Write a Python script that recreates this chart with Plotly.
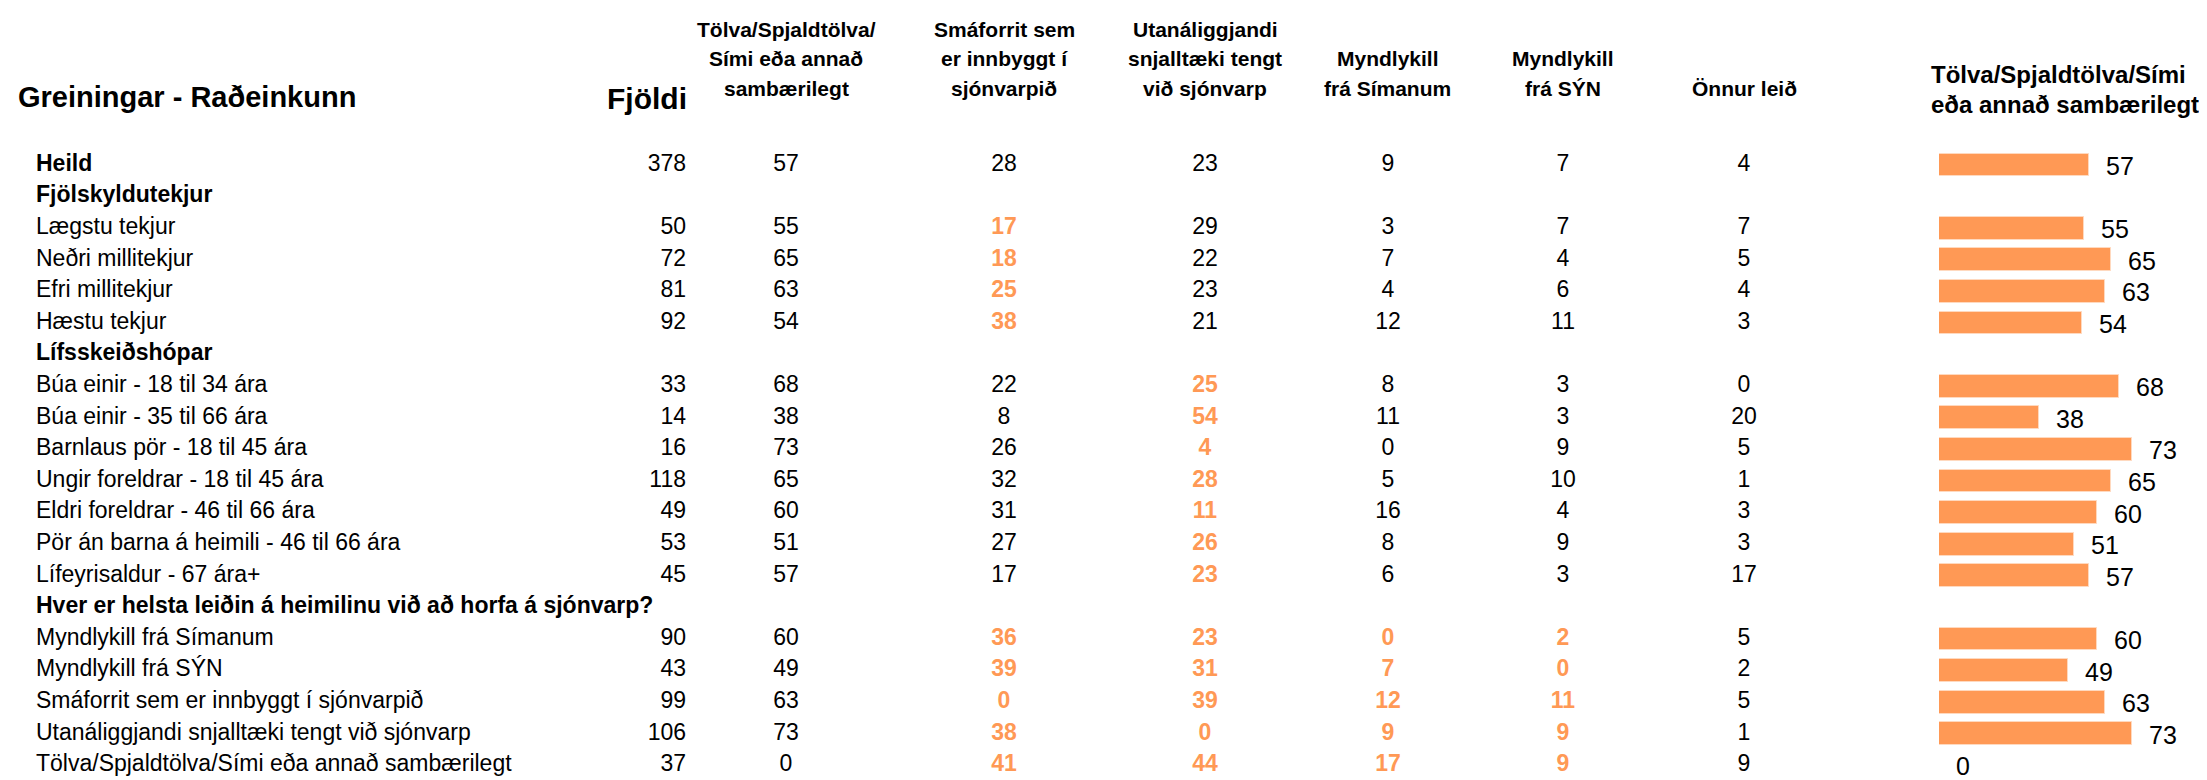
import plotly.graph_objects as go

# ---------------- data ----------------
row_labels = [
    "Heild", "Fjölskyldutekjur", "Lægstu tekjur", "Neðri millitekjur", "Efri millitekjur",
    "Hæstu tekjur", "Lífsskeiðshópar", "Búa einir - 18 til 34 ára", "Búa einir - 35 til 66 ára",
    "Barnlaus pör - 18 til 45 ára", "Ungir foreldrar - 18 til 45 ára",
    "Eldri foreldrar - 46 til 66 ára", "Pör án barna á heimili - 46 til 66 ára",
    "Lífeyrisaldur - 67 ára+", "Hver er helsta leiðin á heimilinu við að horfa á sjónvarp?",
    "Myndlykill frá Símanum", "Myndlykill frá SÝN", "Smáforrit sem er innbyggt í sjónvarpið",
    "Utanáliggjandi snjalltæki tengt við sjónvarp", "Tölva/Spjaldtölva/Sími eða annað sambærilegt",
]
bold_rows = [0, 1, 6, 14]

fjoldi    = [378, None, 50, 72, 81, 92, None, 33, 14, 16, 118, 49, 53, 45, None, 90, 43, 99, 106, 37]
tolva     = [57, None, 55, 65, 63, 54, None, 68, 38, 73, 65, 60, 51, 57, None, 60, 49, 63, 73, 0]
smaforrit = [28, None, 17, 18, 25, 38, None, 22, 8, 26, 32, 31, 27, 17, None, 36, 39, 0, 38, 41]
utan      = [23, None, 29, 22, 23, 21, None, 25, 54, 4, 28, 11, 26, 23, None, 23, 31, 39, 0, 44]
siminn    = [9, None, 3, 7, 4, 12, None, 8, 11, 0, 5, 16, 8, 6, None, 0, 7, 12, 9, 17]
syn       = [7, None, 7, 4, 6, 11, None, 3, 3, 9, 10, 4, 9, 3, None, 2, 0, 11, 9, 9]
onnur     = [4, None, 7, 5, 4, 3, None, 0, 20, 5, 1, 3, 3, 17, None, 5, 2, 5, 1, 9]

value_columns = [tolva, smaforrit, utan, siminn, syn, onnur]

# highlighted (orange bold) cells: column index in value_columns -> rows
highlights = {
    1: [2, 3, 4, 5, 15, 16, 17, 18, 19],
    2: [7, 8, 9, 10, 11, 12, 13, 15, 16, 17, 18, 19],
    3: [15, 16, 17, 18, 19],
    4: [15, 16, 17, 18, 19],
}

column_headers = [
    ["Tölva/Spjaldtölva/", "Sími eða annað", "sambærilegt"],
    ["Smáforrit sem", "er innbyggt í", "sjónvarpið"],
    ["Utanáliggjandi", "snjalltæki tengt", "við sjónvarp"],
    ["Myndlykill", "frá Símanum"],
    ["Myndlykill", "frá SÝN"],
    ["Önnur leið"],
]
title_text = "Greiningar - Raðeinkunn"
fjoldi_header = "Fjöldi"
bar_header = ["Tölva/Spjaldtölva/Sími", "eða annað sambærilegt"]

# ---------------- layout constants ----------------
W, H = 2207, 780
ROW0, ROWH = 157, 31.6
LABEL_X = 28
FJOLDI_X = 678
COL_X = [778, 996, 1197, 1380, 1555, 1736]
BAR_X0 = 1931
PX_PER_UNIT = 2.64
ORANGE = "#FF9955"
FONT = "Arial, Liberation Sans, sans-serif"
VAL_SIZE = 23
HDR_SIZE = 21

fig = go.Figure()
rows_idx = list(range(len(row_labels)))

# row labels
fig.add_trace(go.Scatter(
    x=[LABEL_X] * len(row_labels), y=rows_idx, mode="text",
    text=[f"<b>{t}</b>" if i in bold_rows else t for i, t in enumerate(row_labels)],
    textposition="middle right", textfont=dict(family=FONT, size=VAL_SIZE, color="black"),
    hoverinfo="skip", showlegend=False, cliponaxis=False,
))

# Fjöldi column
fy = [i for i, v in enumerate(fjoldi) if v is not None]
fig.add_trace(go.Scatter(
    x=[FJOLDI_X] * len(fy), y=fy, mode="text",
    text=[str(fjoldi[i]) for i in fy], textposition="middle left",
    textfont=dict(family=FONT, size=VAL_SIZE, color="black"),
    hoverinfo="skip", showlegend=False, cliponaxis=False,
))

# value columns
for c, col in enumerate(value_columns):
    hl = highlights.get(c, [])
    ys = [i for i, v in enumerate(col) if v is not None]
    normal = [i for i in ys if i not in hl]
    hot = [i for i in ys if i in hl]
    if normal:
        fig.add_trace(go.Scatter(
            x=[COL_X[c]] * len(normal), y=normal, mode="text",
            text=[str(col[i]) for i in normal], textposition="middle center",
            textfont=dict(family=FONT, size=VAL_SIZE, color="black"),
            hoverinfo="skip", showlegend=False, cliponaxis=False,
        ))
    if hot:
        fig.add_trace(go.Scatter(
            x=[COL_X[c]] * len(hot), y=hot, mode="text",
            text=[f"<b>{col[i]}</b>" for i in hot], textposition="middle center",
            textfont=dict(family=FONT, size=VAL_SIZE, color=ORANGE),
            hoverinfo="skip", showlegend=False, cliponaxis=False,
        ))

# bars
by = [i for i, v in enumerate(tolva) if v is not None]
bv = [tolva[i] for i in by]
fig.add_trace(go.Bar(
    x=bv, y=by, orientation="h", xaxis="x2", yaxis="y",
    width=0.72, marker=dict(color=ORANGE, line=dict(color="#FFD9BF", width=1)),
    hoverinfo="skip", showlegend=False,
))

annotations = []
for yv, v in zip(by, bv):
    annotations.append(dict(
        x=v, y=yv, xref="x2", yref="y", text=str(v), showarrow=False,
        xanchor="left", yanchor="middle", xshift=15, yshift=-1,
        font=dict(family=FONT, size=25, color="black"),
    ))

def py(px):
    return 1 - px / H

# title and headers
annotations.append(dict(x=8 / W, y=py(89), xref="paper", yref="paper", text=f"<b>{title_text}</b>",
                        showarrow=False, xanchor="left", yanchor="middle",
                        font=dict(family=FONT, size=29, color="black")))
annotations.append(dict(x=(FJOLDI_X + 3) / W, y=py(90), xref="paper", yref="paper", text=f"<b>{fjoldi_header}</b>",
                        showarrow=False, xanchor="right", yanchor="middle",
                        font=dict(family=FONT, size=30, color="black")))
line_centers = [21, 51, 81]
for c, lines in enumerate(column_headers):
    offs = 3 - len(lines)
    for k, ln in enumerate(lines):
        annotations.append(dict(x=COL_X[c] / W, y=py(line_centers[k + offs]), xref="paper", yref="paper",
                                text=f"<b>{ln}</b>", showarrow=False, xanchor="center", yanchor="middle",
                                font=dict(family=FONT, size=HDR_SIZE, color="black")))
for k, ln in enumerate(bar_header):
    annotations.append(dict(x=(BAR_X0 - 10) / W, y=py([66, 96][k]), xref="paper", yref="paper",
                            text=f"<b>{ln}</b>", showarrow=False, xanchor="left", yanchor="middle",
                            font=dict(family=FONT, size=24, color="black")))

y_top = -ROW0 / ROWH
y_bot = (H - ROW0) / ROWH

fig.update_layout(
    width=W, height=H, margin=dict(l=0, r=0, t=0, b=0),
    paper_bgcolor="white", plot_bgcolor="white",
    xaxis=dict(range=[0, W], domain=[0, 1], visible=False, fixedrange=True),
    xaxis2=dict(range=[0, (W - BAR_X0) / PX_PER_UNIT], domain=[BAR_X0 / W, 1], anchor="y",
                visible=False, fixedrange=True),
    yaxis=dict(range=[y_bot, y_top], visible=False, fixedrange=True),
    annotations=annotations, bargap=0,
)

fig.write_html("out.html")
